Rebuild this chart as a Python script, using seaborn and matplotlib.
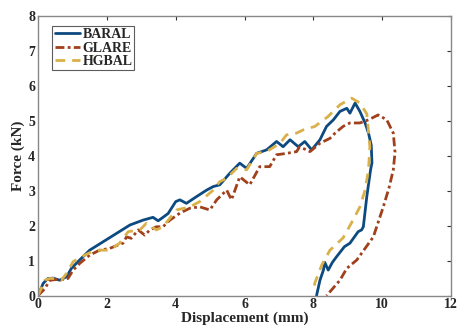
import numpy as np
import pandas as pd
import matplotlib
matplotlib.use("Agg")
import matplotlib.pyplot as plt
import seaborn as sns

baral_x = [0.0, 0.15, 0.29, 0.44, 0.63, 0.83, 0.97, 1.21, 1.5, 1.89, 2.28, 2.67, 3.05, 3.34, 3.49, 3.63, 3.78,
           4.0, 4.12, 4.31, 4.6, 4.9, 5.09, 5.28, 5.57, 5.86, 6.06, 6.35, 6.64, 6.93, 7.12, 7.32, 7.56, 7.75, 7.95,
           8.19, 8.38, 8.58, 8.77, 8.97, 9.06, 9.21, 9.35, 9.5, 9.6, 9.68, 9.7, 9.66, 9.55, 9.45, 9.4, 9.3, 9.06,
           8.9, 8.67, 8.55, 8.43, 8.33, 8.29, 8.19, 8.09]
baral_y = [0.0, 0.35, 0.49, 0.5, 0.44, 0.54, 0.78, 1.02, 1.3, 1.54, 1.78, 2.02, 2.16, 2.24, 2.14, 2.24, 2.35,
           2.69, 2.74, 2.64, 2.83, 3.02, 3.12, 3.17, 3.5, 3.79, 3.64, 4.07, 4.17, 4.41, 4.26, 4.46, 4.26, 4.41, 4.17,
           4.46, 4.84, 5.03, 5.27, 5.36, 5.22, 5.51, 5.27, 4.94, 4.65, 4.3, 3.8, 3.6, 2.83, 1.97, 1.88, 1.83, 1.5,
           1.4, 1.11, 0.95, 0.73, 0.95, 0.73, 0.44, 0.0]

glare_x = [0.0, 0.2, 0.34, 0.53, 0.73, 0.87, 1.02, 1.21, 1.5, 1.79, 2.08, 2.33, 2.47, 2.57, 2.71, 2.91, 3.1,
           3.25, 3.44, 3.63, 3.83, 4.12, 4.41, 4.7, 4.99, 5.19, 5.48, 5.62, 5.86, 6.15, 6.44, 6.73, 6.93, 7.22,
           7.51, 7.6, 7.9, 8.19, 8.48, 8.63, 8.86, 9.06, 9.35, 9.6, 9.88, 10.13, 10.32, 10.37, 10.32, 10.2, 10.03,
           9.74, 9.5, 9.26, 8.97, 8.77, 8.48, 8.38]
glare_y = [0.0, 0.2, 0.44, 0.46, 0.46, 0.49, 0.73, 0.92, 1.16, 1.3, 1.35, 1.45, 1.5, 1.68, 1.64, 1.88, 1.73,
           1.88, 1.97, 1.97, 2.16, 2.36, 2.5, 2.54, 2.45, 2.74, 3.02, 2.74, 3.4, 3.17, 3.69, 3.69, 4.03, 4.07,
           4.12, 4.26, 4.12, 4.36, 4.5, 4.65, 4.84, 4.94, 4.94, 5.03, 5.17, 5.03, 4.65, 4.1, 3.6, 3.1, 2.54,
           1.68, 1.35, 1.02, 0.78, 0.44, 0.11, 0.0]

hgbal_x = [0.0, 0.2, 0.34, 0.53, 0.68, 0.83, 1.02, 1.26, 1.55, 1.79, 2.08, 2.37, 2.62, 2.96, 3.15, 3.44, 3.63,
           4.02, 4.41, 4.7, 5.09, 5.28, 5.48, 5.77, 6.06, 6.35, 6.64, 7.03, 7.22, 7.51, 7.7, 8.04, 8.42, 8.77,
           9.11, 9.35, 9.55, 9.64, 9.6, 9.5, 9.35, 9.15, 8.86, 8.48, 8.24, 8.04, 8.0]
hgbal_y = [0.0, 0.44, 0.49, 0.49, 0.44, 0.64, 0.97, 1.11, 1.25, 1.3, 1.3, 1.5, 1.83, 1.88, 2.07, 1.88, 1.97,
           2.45, 2.54, 2.69, 3.02, 3.26, 3.36, 3.64, 3.6, 4.07, 4.12, 4.36, 4.6, 4.65, 4.74, 4.84, 5.12, 5.46,
           5.65, 5.51, 5.2, 4.26, 3.6, 3.02, 2.54, 2.16, 1.65, 1.3, 0.87, 0.36, 0.1]

names = ["BARAL", "GLARE", "HGBAL"]
colors = ["#0d4a80", "#a0401c", "#d9b04a"]
styles = ["-", (0, (3.2, 1.2, 1, 1.2)), (0, (3.5, 2.5))]

frames = []
for n, xs, ys in zip(names, [baral_x, glare_x, hgbal_x], [baral_y, glare_y, hgbal_y]):
    frames.append(pd.DataFrame({"x": xs, "y": ys, "series": n, "order": range(len(xs))}))
df = pd.concat(frames, ignore_index=True)

sns.set_style("white")
plt.rcParams['font.family'] = ['Liberation Serif', 'DejaVu Serif']
plt.rcParams['font.weight'] = 'bold'

fig = plt.figure(figsize=(4.58, 3.27), dpi=100)
ax = fig.add_axes([0.083, 0.096, 0.902, 0.855])

for n, c, ls in zip(names, colors, styles):
    sub = df[df.series == n]
    sns.lineplot(data=sub, x="x", y="y", sort=False, estimator=None, ax=ax,
                 color=c, linewidth=2.0, label=n)
    ax.lines[-1].set_linestyle(ls)

ax.set_xlim(0, 12)
ax.set_ylim(0, 8)
ax.set_xticks(range(0, 13, 2))
ax.set_yticks(range(0, 9))
ax.tick_params(direction="in", top=True, right=True, length=3, width=0.8,
               labelsize=10, pad=2, color="#333333")
for lab in ax.get_xticklabels() + ax.get_yticklabels():
    lab.set_fontweight("bold")
for s in ax.spines.values():
    s.set_color("#888888")
    s.set_linewidth(1.0)
ax.set_xlabel("Displacement (mm)", fontsize=11, fontweight="bold", labelpad=0)
ax.set_ylabel("Force (kN)", fontsize=11, fontweight="bold", labelpad=2)

leg = ax.legend(loc="upper left", bbox_to_anchor=(0.035, 0.965), frameon=True, fancybox=False,
                fontsize=10, handlelength=1.8, handletextpad=0.2, borderpad=0.15,
                labelspacing=0.05, borderaxespad=0)
leg.get_frame().set_edgecolor("#333333")
leg.get_frame().set_linewidth(0.8)
for t in leg.get_texts():
    t.set_fontweight("bold")

fig.savefig("out.png", dpi=100)
